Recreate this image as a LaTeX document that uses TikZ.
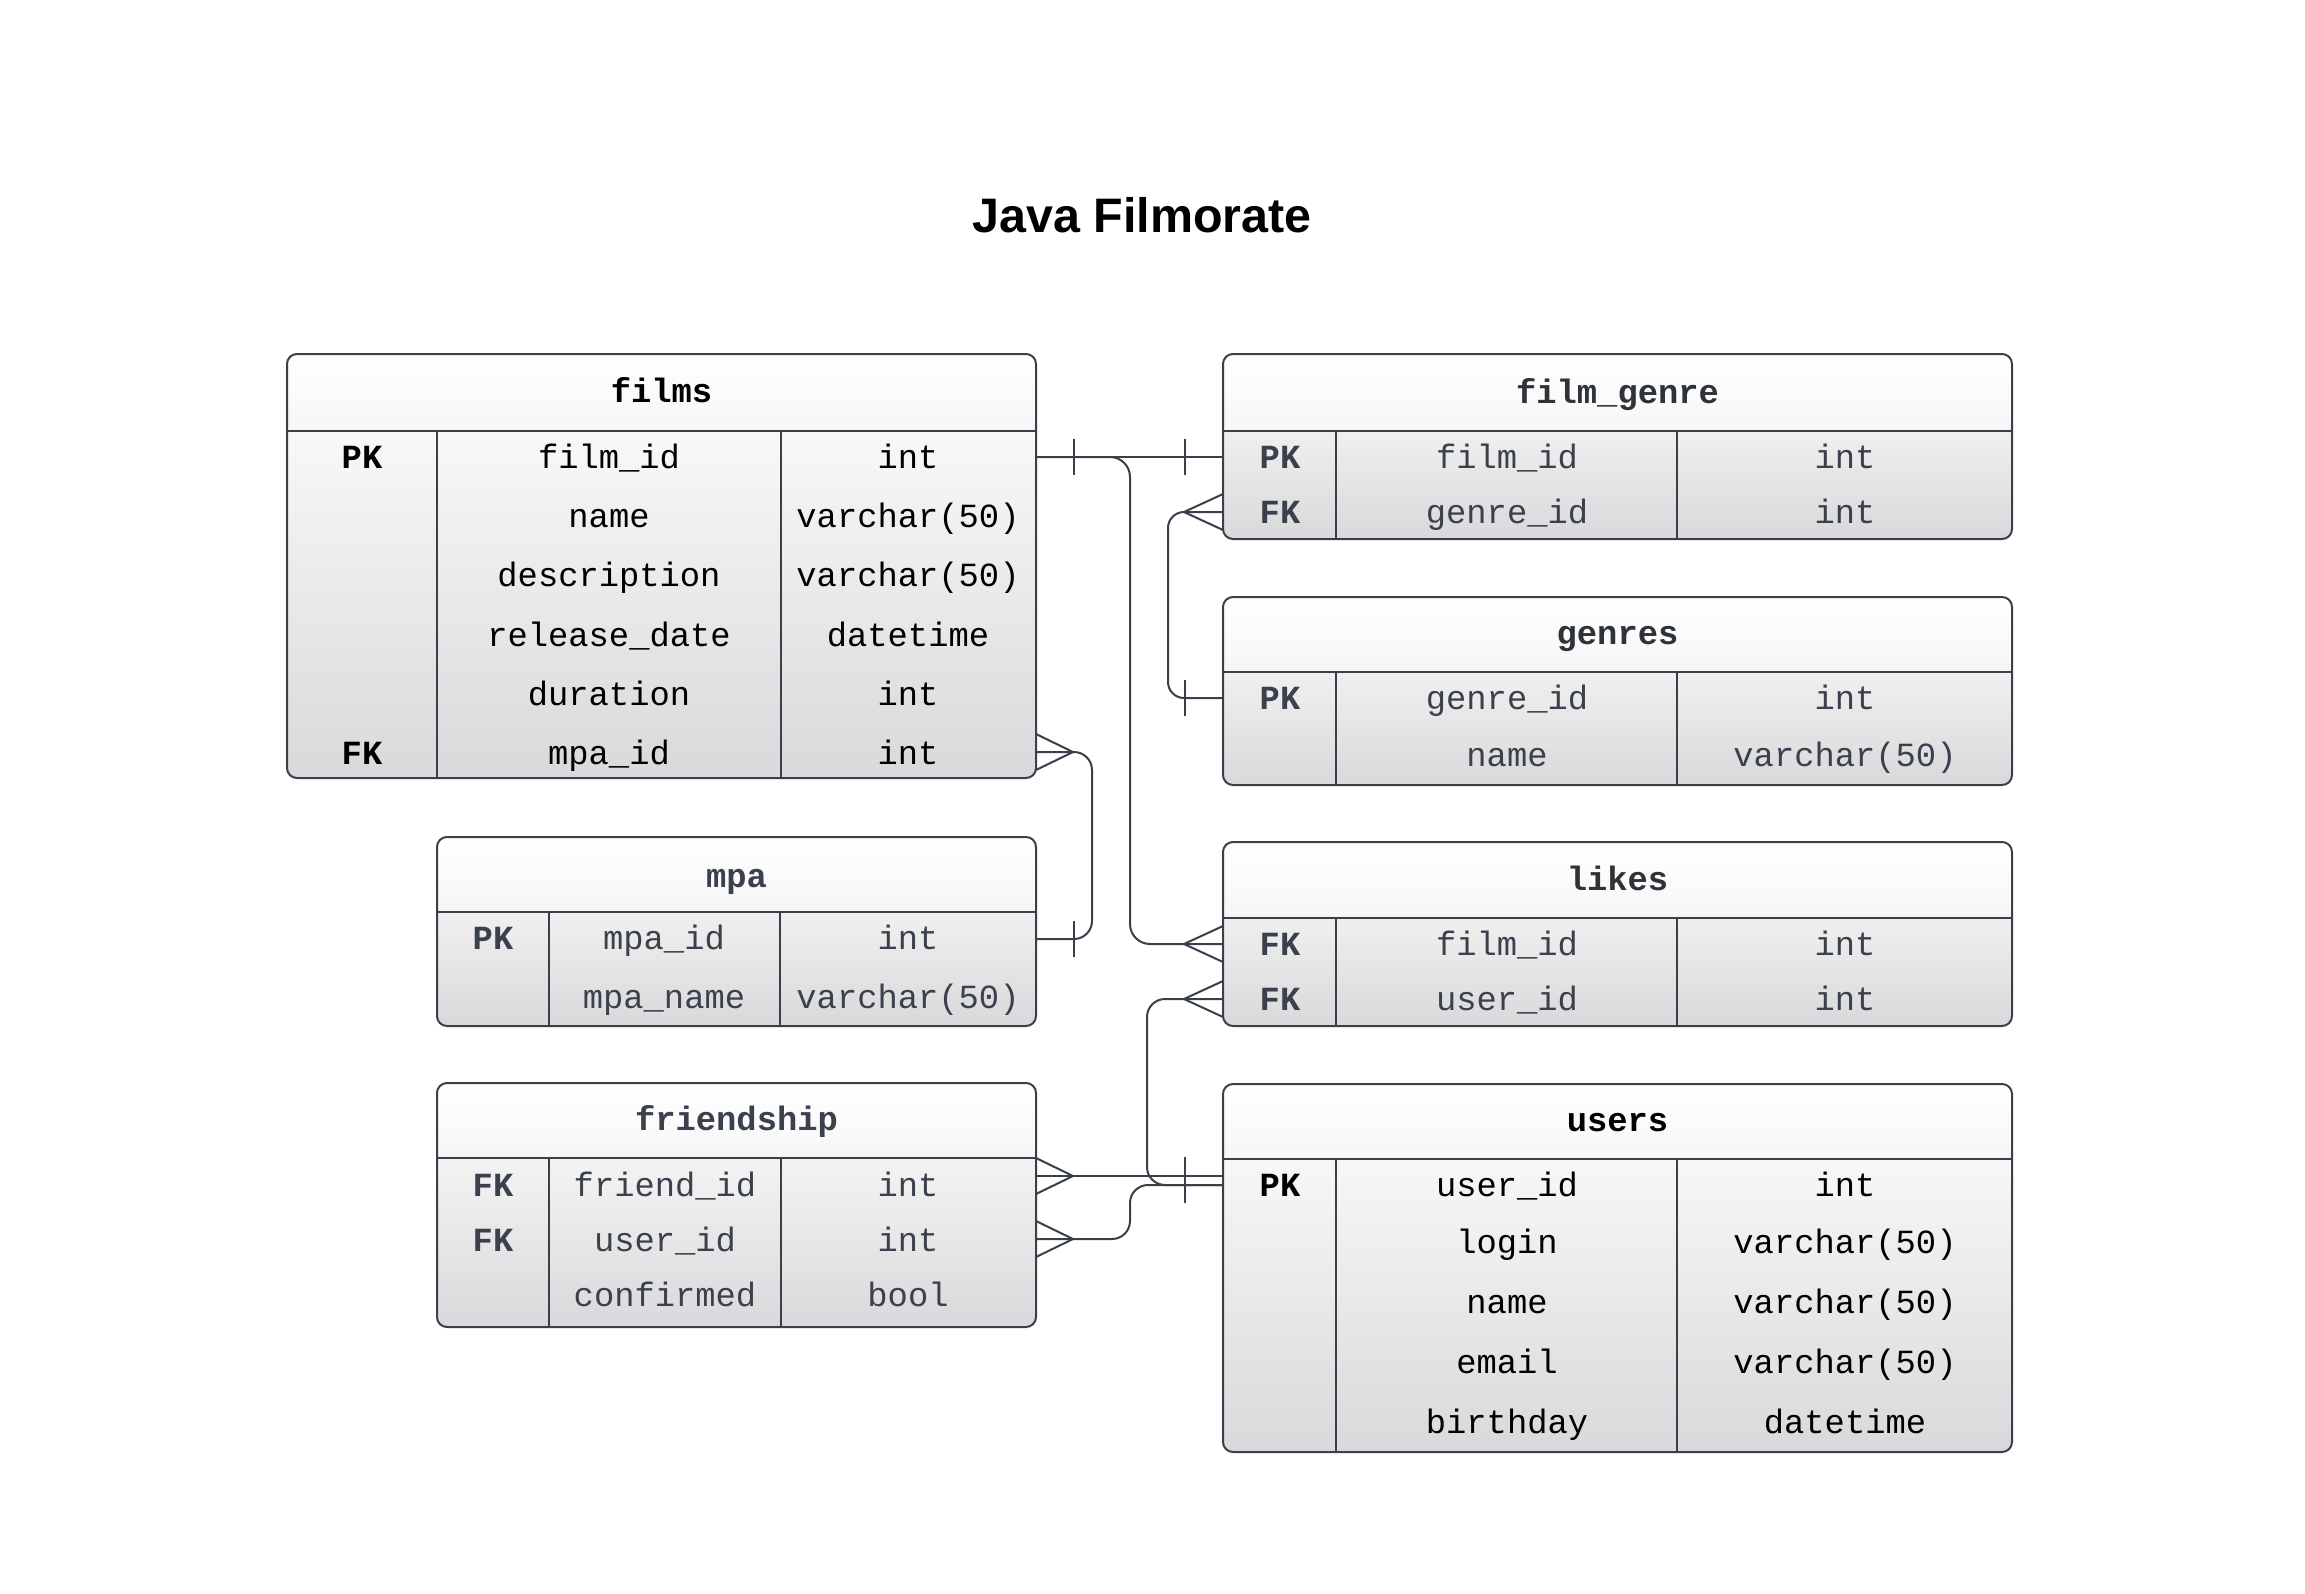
\documentclass[tikz,border=0pt]{standalone}
\usepackage{fontspec}
\setmainfont{Liberation Sans}
\setmonofont{Liberation Mono}
\usetikzlibrary{calc}
\definecolor{linec}{HTML}{3A404A}
\definecolor{txtgray}{HTML}{3A414C}
\definecolor{txthdr}{HTML}{2E333A}
\definecolor{bodybot}{HTML}{D9D9DB}
\definecolor{hdrbot}{HTML}{F6F6F7}

\newcommand{\ertable}[8]{% x1 x2 yt yh yb c1 c2 name
  \begin{scope}
    \clip[rounded corners=10] (#1,#3) rectangle (#2,#5);
    \shade[top color=white,bottom color=bodybot] (#1,#3) rectangle (#2,#5);
    \shade[top color=white,bottom color=hdrbot] (#1,#3) rectangle (#2,#4);
  \end{scope}
  \draw[tblline,rounded corners=10] (#1,#3) rectangle (#2,#5);
  \draw[tblline] (#1,#4) -- (#2,#4);
  \draw[colline] (#6,#4) -- (#6,#5) (#7,#4) -- (#7,#5);
  \coordinate (#8-nw) at (#1,#3);
  \coordinate (#8-se) at (#2,#5);
}
\newcommand{\errow}[8]{% prefix y xk xn xt key field type
  \node[keyt, anchor=base] (#1-k) at (#3,#2+11) {#6};
  \node[fldt, anchor=base] (#1-n) at (#4,#2+11) {#7};
  \node[fldt, anchor=base] (#1-t) at (#5,#2+11) {#8};
}
\newcommand{\crowfoot}[2]{\draw[conn] ($(#1)+(0,-18)$) -- ($(#1)+(#2,0)$) -- ($(#1)+(0,18)$);}
\newcommand{\onetick}[2]{\draw[conn] ($(#1)+(#2,-18)$) -- ($(#1)+(#2,18)$);}

\begin{document}
\begin{tikzpicture}[x=1pt,y=-1pt,
  tblline/.style={draw=linec,line width=2pt},
  colline/.style={draw=linec,line width=1.5pt},
  conn/.style={draw=linec,line width=2pt},
  tcol/.style={text=black},
  hcol/.style={text=black},
  keyt/.style={font=\ttfamily\bfseries\fontsize{33.8}{40}\selectfont,tcol,inner sep=0pt},
  fldt/.style={font=\ttfamily\fontsize{33.8}{40}\selectfont,tcol,inner sep=0pt},
  hdrt/.style={font=\ttfamily\bfseries\fontsize{33.8}{40}\selectfont,hcol,inner sep=0pt,anchor=base},
  titlet/.style={font=\bfseries\fontsize{48.4}{56}\selectfont,text=black,inner sep=0pt,anchor=base}]
\useasboundingbox (0,0) rectangle (2305,1593);
\fill[white] (0,0) rectangle (2305,1593);

\node[titlet] (title) at (1142,232) {Java Filmorate};

% connector end points
\coordinate (f-fid-E) at (1036,457);
\coordinate (fg-fid-W) at (1223,457);
\coordinate (fg-gid-W) at (1223,512);
\coordinate (g-gid-W) at (1223,698);
\coordinate (f-mpa-E) at (1036,752);
\coordinate (m-mid-E) at (1036,939);
\coordinate (l-fid-W) at (1223,944);
\coordinate (l-uid-W) at (1223,999);
\coordinate (u-uid-W) at (1223,1185);
\coordinate (fr-fid-E) at (1036,1176);
\coordinate (fr-uid-E) at (1036,1239);

% connectors
\draw[conn] (f-fid-E) -- (fg-fid-W);
\onetick{f-fid-E}{38}
\onetick{fg-fid-W}{-38}
\draw[conn,rounded corners=20] (f-fid-E) -- ($(f-fid-E)+(94,0)$) |- (l-fid-W);
\crowfoot{l-fid-W}{-39}
\draw[conn,rounded corners=16] (fg-gid-W) -- ($(fg-gid-W)+(-55,0)$) |- (g-gid-W);
\crowfoot{fg-gid-W}{-39}
\onetick{g-gid-W}{-38}
\draw[conn,rounded corners=18] (f-mpa-E) -- ($(f-mpa-E)+(56,0)$) |- (m-mid-E);
\crowfoot{f-mpa-E}{37}
\onetick{m-mid-E}{38}
\draw[conn,rounded corners=18] (l-uid-W) -- ($(l-uid-W)+(-76,0)$) |- (u-uid-W);
\crowfoot{l-uid-W}{-39}
\draw[conn] (fr-fid-E) -- (fr-fid-E -| u-uid-W);
\crowfoot{fr-fid-E}{37}
\draw[conn,rounded corners=18] (fr-uid-E) -- ($(fr-uid-E)+(94,0)$) |- (u-uid-W);
\crowfoot{fr-uid-E}{37}
\draw[conn] ($(u-uid-W)+(-38,-28)$) -- ($(u-uid-W)+(-38,18)$);

% films
\tikzset{tcol/.style={text=black},hcol/.style={text=black}}
\ertable{287}{1036}{354}{431}{778}{437}{781}{films}
\node[hdrt] (films-title) at (661.5,402) {films};
\errow{f1}{457}{362}{609}{908}{PK}{film\_id}{int}
\errow{f2}{516}{362}{609}{908}{}{name}{varchar(50)}
\errow{f3}{575}{362}{609}{908}{}{description}{varchar(50)}
\errow{f4}{635}{362}{609}{908}{}{release\_date}{datetime}
\errow{f5}{694}{362}{609}{908}{}{duration}{int}
\errow{f6}{753}{362}{609}{908}{FK}{mpa\_id}{int}

% film_genre
\tikzset{tcol/.style={text=txtgray},hcol/.style={text=txthdr}}
\ertable{1223}{2012}{354}{431}{539}{1336}{1677}{filmgenre}
\node[hdrt] (fg-title) at (1617.5,403) {film\_genre};
\errow{fg1}{457}{1280}{1507}{1845}{PK}{film\_id}{int}
\errow{fg2}{512}{1280}{1507}{1845}{FK}{genre\_id}{int}

% genres
\ertable{1223}{2012}{597}{672}{785}{1336}{1677}{genres}
\node[hdrt] (g-title) at (1617.5,644) {genres};
\errow{g1}{698}{1280}{1507}{1845}{PK}{genre\_id}{int}
\errow{g2}{755}{1280}{1507}{1845}{}{name}{varchar(50)}

% likes
\ertable{1223}{2012}{842}{918}{1026}{1336}{1677}{likes}
\node[hdrt] (l-title) at (1617.5,890) {likes};
\errow{l1}{944}{1280}{1507}{1845}{FK}{film\_id}{int}
\errow{l2}{999}{1280}{1507}{1845}{FK}{user\_id}{int}

% mpa
\tikzset{tcol/.style={text=txtgray},hcol/.style={text=txtgray}}
\ertable{437}{1036}{837}{912}{1026}{549}{780}{mpa}
\node[hdrt] (m-title) at (736.5,887) {mpa};
\errow{m1}{938}{493}{664}{908}{PK}{mpa\_id}{int}
\errow{m2}{997}{493}{664}{908}{}{mpa\_name}{varchar(50)}

% friendship
\ertable{437}{1036}{1083}{1158}{1327}{549}{781}{friendship}
\node[hdrt] (fr-title) at (736.5,1130) {friendship};
\errow{fr1}{1185}{493}{665}{908}{FK}{friend\_id}{int}
\errow{fr2}{1240}{493}{665}{908}{FK}{user\_id}{int}
\errow{fr3}{1295}{493}{665}{908}{}{confirmed}{bool}

% users
\tikzset{tcol/.style={text=black},hcol/.style={text=black}}
\ertable{1223}{2012}{1084}{1159}{1452}{1336}{1677}{users}
\node[hdrt] (u-title) at (1617.5,1131) {users};
\errow{u1}{1185}{1280}{1507}{1845}{PK}{user\_id}{int}
\errow{u2}{1242}{1280}{1507}{1845}{}{login}{varchar(50)}
\errow{u3}{1302}{1280}{1507}{1845}{}{name}{varchar(50)}
\errow{u4}{1362}{1280}{1507}{1845}{}{email}{varchar(50)}
\errow{u5}{1422}{1280}{1507}{1845}{}{birthday}{datetime}
\end{tikzpicture}
\end{document}
